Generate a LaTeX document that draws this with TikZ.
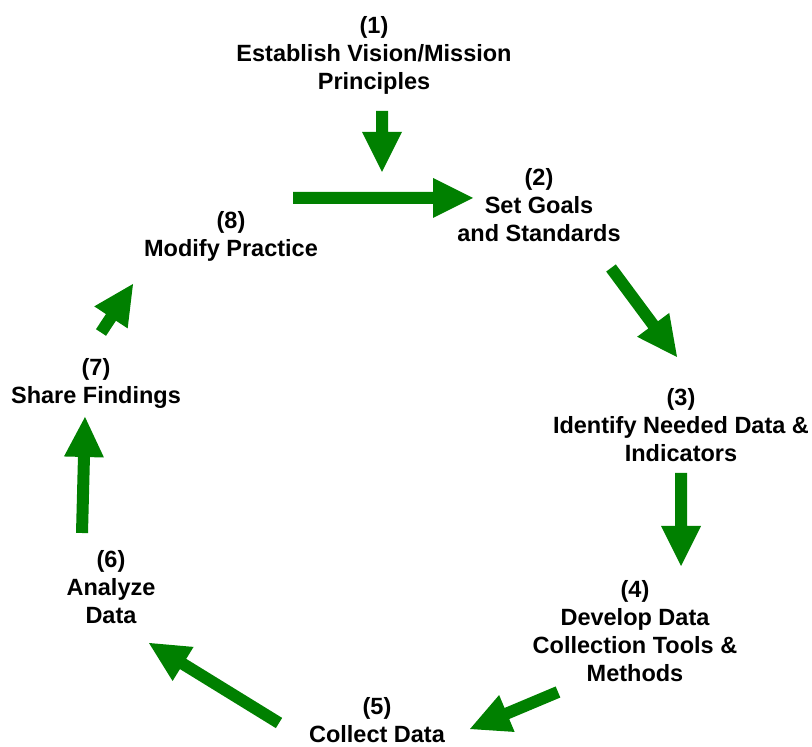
\documentclass[tikz,border=0pt]{standalone}
\usepackage{fontspec}
\setmainfont{Liberation Sans}
\usetikzlibrary{calc}
\definecolor{arrowgreen}{RGB}{0,128,0}
\newcommand{\greenarrow}[2]{%
  \coordinate (gac) at ($(#2)!40pt!(#1)$);
  \fill[arrowgreen] ($(#1)!6pt!90:(#2)$) -- ($(gac)!6pt!90:(#2)$) -- ($(gac)!20pt!90:(#2)$) -- (#2)
    -- ($(gac)!20pt!-90:(#2)$) -- ($(gac)!6pt!-90:(#2)$) -- ($(#1)!6pt!-90:(#2)$) -- cycle;}
\begin{document}
\begin{tikzpicture}[x=1pt,y=1pt,
  stage/.style={anchor=north, align=center, inner sep=0pt, font=\fontsize{23.5}{28}\selectfont\bfseries}]
\useasboundingbox (0,0) rectangle (812,747);
% text blocks
\node[stage] (s1) at (374,731) {(1)\\Establish Vision/Mission\\Principles};
\node[stage] (s2) at (539,579) {(2)\\Set Goals\\and Standards};
\node[stage] (s3) at (681,359) {(3)\\Identify Needed Data \&\\Indicators};
\node[stage] (s4) at (635,167) {(4)\\Develop Data\\Collection Tools \&\\Methods};
\node[stage] (s5) at (377,50) {(5)\\Collect Data};
\node[stage] (s6) at (111,197) {(6)\\Analyze\\Data};
\node[stage] (s7) at (96,389) {(7)\\Share Findings};
\node[stage] (s8) at (231,536) {(8)\\Modify Practice};
% arrow end points
\coordinate (a1s) at (382,636); \coordinate (a1e) at (382,575);
\coordinate (a2s) at (293,549); \coordinate (a2e) at (473,549);
\coordinate (a3s) at (611,479); \coordinate (a3e) at (677,390);
\coordinate (a4s) at (681,274); \coordinate (a4e) at (681,181);
\coordinate (a5s) at (558,55);  \coordinate (a5e) at (470,18);
\coordinate (a6s) at (279,24);  \coordinate (a6e) at (149,104);
\coordinate (a7s) at (82,214);  \coordinate (a7e) at (85,330);
\coordinate (a8s) at (101,414.5); \coordinate (a8e) at (133,463);
\greenarrow{a1s}{a1e}
\greenarrow{a2s}{a2e}
\greenarrow{a3s}{a3e}
\greenarrow{a4s}{a4e}
\greenarrow{a5s}{a5e}
\greenarrow{a6s}{a6e}
\greenarrow{a7s}{a7e}
\greenarrow{a8s}{a8e}
\end{tikzpicture}
\end{document}
